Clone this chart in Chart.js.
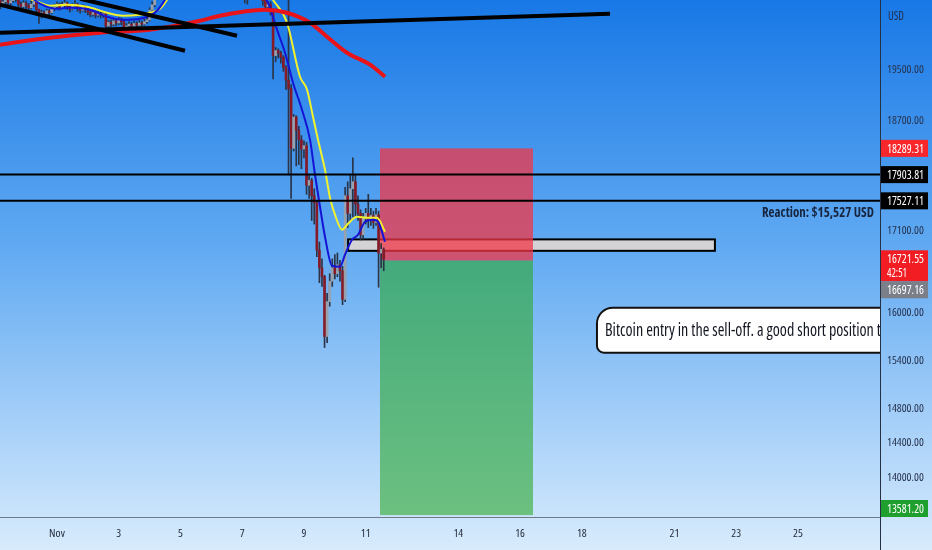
<!DOCTYPE html>
<html>
<head>
<meta charset="utf-8">
<script src="https://cdn.jsdelivr.net/npm/chart.js@4.4.1/dist/chart.umd.min.js"></script>
<style>
  html, body { margin: 0; padding: 0; background: #ffffff; }
  #wrap { width: 932px; height: 550px; position: relative; }
</style>
</head>
<body>
<div id="wrap"><canvas id="c" width="932" height="550"></canvas></div>
<script>
// ---- BTCUSD 2h candles (time in days, Nov 1 00:00 = 1) ----
const candleStartDay = -10 / 12;
const candleStepDay = 1 / 12;
const firstOpen = 20620;
const closes = [
  20560,20600,20640,20580,20620,20680,20650,20560,20520,20580,20540,20500,20560,20600,20470,20380,20420,20400,20450,20420,
  20480,20520,20560,20500,20540,20580,20520,20480,20530,20560,20500,20460,20510,20470,20430,20390,20420,20380,20410,20380,
  20400,20200,20260,20230,20280,20250,20300,20270,20160,20200,20230,20200,20240,20210,20250,20230,20270,20300,20460,20550,
  20680,20850,20950,21050,21000,21120,21200,21150,21230,21300,21350,21280,21330,21380,21310,21350,21290,21320,21260,21300,
  21240,21180,21220,21150,21080,21120,21050,20980,21020,20940,20880,20920,20850,20780,20720,20680,20740,20800,20760,20820,
  20780,20700,20620,20520,20560,20430,19720,19800,19760,19690,19530,19330,19200,18290,18760,18560,18420,18280,18330,17750,
  17820,17600,17500,16840,16600,16480,15700,16150,16420,16600,16520,16640,16560,16180,17600,17350,17700,17800,17480,17350,
  17050,17280,17350,17250,17320,17220,17330,16800,16850,16721.55
];
const highs = [
  20700,20680,20720,20690,20700,20760,20740,20670,20600,20620,20610,20570,20620,20650,20610,20480,20460,20450,20480,20470,
  20510,20560,20600,20580,20600,20640,20600,20540,20570,20620,20580,20520,20550,20540,20490,20450,20460,20440,20450,20440,
  20440,20420,20290,20300,20320,20310,20340,20330,20300,20240,20270,20260,20280,20270,20290,20280,20310,20340,20500,20600,
  20760,20950,21050,21120,21100,21200,21280,21260,21300,21380,21450,21400,21420,21460,21420,21410,21380,21390,21350,21370,
  21330,21280,21300,21260,21200,21180,21150,21090,21080,21050,20980,20980,20950,20880,20820,20780,20790,20860,20850,20900,
  20880,20820,20720,20650,20600,20600,20480,19850,19830,19790,19720,19560,20650,19260,18800,18780,18620,18480,18400,18380,
  17900,17850,17700,17520,16950,16720,16500,16260,16520,16720,16780,16800,16700,16620,17720,17800,17900,18150,17900,17600,
  17400,17350,17420,17620,17420,17380,17420,17380,16930,16870
];
const lows = [
  20480,20520,20560,20530,20540,20590,20600,20500,20470,20490,20480,20440,20480,20520,20400,20240,20330,20350,20370,20380,
  20400,20450,20490,20460,20480,20500,20470,20430,20460,20500,20440,20410,20440,20420,20380,20350,20360,20330,20350,20330,
  20340,20160,20150,20180,20200,20200,20220,20220,20130,20130,20170,20160,20180,20170,20190,20190,20210,20240,20280,20420,
  20520,20650,20820,20900,20920,20960,21080,21080,21120,21180,21250,21200,21230,21280,21250,21270,21220,21240,21180,21210,
  21170,21100,21120,21070,20980,21020,20960,20900,20920,20860,20800,20840,20760,20700,20640,20580,20560,20700,20690,20720,
  20700,20640,20540,20460,20480,20380,19350,19620,19680,19600,19470,19180,17900,17560,18250,18030,18050,17990,18150,17620,
  17560,17250,17200,16750,16400,16350,15560,15620,16090,16350,16450,16480,16420,16110,16150,17150,17250,17300,17300,17250,
  16980,16990,17200,17150,17180,17140,17180,16340,16600,16560
];

// ---- moving averages (day, price) ----
const emaFastDays   = [0.127,0.451,0.936,1.422,2.070,2.621,3.139,3.689,4.013,4.272,4.499,4.726,5.633,6.928,7.641,7.835,8.127,8.386,8.645,8.936,9.196,9.357,9.519,9.681,9.908,10.167,10.329,10.556,10.750,10.977,11.236,11.398,11.625];
const emaFastPrices = [20686,20568,20484,20501,20468,20352,20303,20320,20369,20468,20634,20837,21230,21057,20735,20585,20139,19766,19291,18872,18418,17902,17443,17024,16628,16614,16777,16982,17051,17232,17260,17232,16955];
const emaSlowDays   = [-0.197,0.289,0.774,1.325,1.973,2.621,3.139,3.689,4.013,4.337,4.564,4.823,5.633,6.604,7.414,7.997,8.451,8.872,9.098,9.293,9.455,9.681,9.843,10.038,10.232,10.426,10.718,11.042,11.366,11.625];
const emaSlowPrices = [20701,20618,20535,20551,20518,20418,20369,20385,20418,20484,20634,20888,21317,21490,21144,20634,20253,19385,19181,18766,18418,17975,17571,17288,17121,17204,17302,17288,17288,17093];
const smaLongDays   = [-0.845,0.774,2.394,4.013,4.985,5.633,6.280,7.026,7.738,8.450,9.196,9.746,10.394,11.139,11.625];
const smaLongPrices = [19895,20008,20090,20139,20220,20286,20369,20435,20468,20418,20253,20024,19766,19575,19385];

// ---- drawn levels and trend lines ----
const levelPrices = [17903.81, 17527.11];
const trendLines = [
  { days: [-0.845, 5.147], prices: [20551, 19798] },
  { days: [1.746, 6.831],  prices: [20652, 20041] },
  { days: [-0.845, 18.912], prices: [20090, 20402] }
];
const zone = { dayFrom: 10.43, dayTo: 22.31, priceTop: 16987, priceBottom: 16830 };
const position = { dayFrom: 11.463, dayTo: 16.418, stop: 18289.31, entry: 16697.16, target: 13581.20 };
const reactionNote = { day: 27.46, price: 17360, text: 'Reaction: $15,527 USD' };
const calloutNote = { day: 18.49, price: 16071, text: 'Bitcoin entry in the sell-off. a good short position to take', lead: 'Bitcoin entry in the sell-off. a good short position to' };

// ---- axes ----
const dayTicks = [1, 3, 5, 7, 9, 11, 14, 16, 18, 21, 23, 25];
const dayTickLabels = ['Nov', '3', '5', '7', '9', '11', '14', '16', '18', '21', '23', '25'];
const priceTicks = [14000, 14400, 14800, 15400, 16000, 17100, 18700, 19500];
const dayMin = -0.845, dayMax = 27.657;
const priceMin = 13560, priceMax = 20630;
const lastPrice = 16721.55;
const countdown = '42:51';

// Pick the narrowest installed sans face for the price-scale lettering.
function pickNarrowFont() {
  const c = document.createElement('canvas').getContext('2d');
  const cands = [
    { stretch: '', family: '"Liberation Sans"' },
    { stretch: '', family: '"Liberation Sans Narrow"' },
    { stretch: '', family: '"Noto Sans ExtraCondensed"' },
    { stretch: 'extra-condensed', family: '"Noto Sans"' },
    { stretch: '', family: '"Noto Sans Condensed"' },
    { stretch: 'condensed', family: '"Noto Sans"' },
    { stretch: '', family: '"DejaVu Sans Condensed"' },
    { stretch: 'condensed', family: '"DejaVu Sans"' },
    { stretch: 'condensed', family: '"Open Sans"' }
  ];
  const target = 38;
  let best = cands[0], bestW = Infinity, bestErr = Infinity;
  for (const f of cands) {
    c.font = '13px serif';
    c.font = (f.stretch ? f.stretch + ' ' : '') + '13px ' + f.family;
    const w = c.measureText('19500.00').width;
    const err = Math.abs(w - target);
    if (err < bestErr - 0.3) { bestErr = err; bestW = w; best = f; }
  }
  return { stretch: best.stretch, family: best.family + ', "Liberation Sans", sans-serif', w13: bestW };
}
const NARROW = pickNarrowFont();
const TICK_SIZE = Math.max(10, Math.min(13, Math.round(13 * 36 / NARROW.w13 * 2) / 2));
const fontStr = (size, weight) =>
  (weight ? weight + ' ' : '') + (NARROW.stretch ? NARROW.stretch + ' ' : '') + size + 'px ' + NARROW.family;

// text squeezed horizontally so that `lead` (or the text) spans `width` pixels
function fitText(ctx, text, x, y, size, weight, width, align, lead) {
  ctx.font = fontStr(size, weight);
  const w = ctx.measureText(lead || text).width;
  const sx = Math.min(1, width / w);
  ctx.save();
  ctx.translate(x, y);
  ctx.scale(sx, 1);
  ctx.textAlign = align || 'left';
  ctx.textBaseline = 'middle';
  ctx.fillText(text, 0, 0);
  ctx.restore();
}

const UP = '#9aa1ab', DOWN = '#861b27', WICK = '#2b3446';

const times = closes.map((_, i) => candleStartDay + i * candleStepDay);
const opens = [firstOpen].concat(closes.slice(0, -1));
const pts = (ds, ps) => ds.map((d, i) => ({ x: d, y: ps[i] }));

const datasets = [
  {
    type: 'bar', label: 'wicks', order: 6, grouped: false, barThickness: 1,
    backgroundColor: WICK,
    data: times.map((t, i) => ({ x: t, y: [lows[i], highs[i]] }))
  },
  {
    type: 'bar', label: 'bodies', order: 5, grouped: false, barThickness: 2, minBarLength: 1,
    backgroundColor: closes.map((c, i) => (c >= opens[i] ? UP : DOWN)),
    data: times.map((t, i) => ({ x: t, y: [opens[i], closes[i]] }))
  },
  {
    type: 'line', label: 'slow', order: 4, borderColor: '#f2f22c', borderWidth: 2,
    pointRadius: 0, cubicInterpolationMode: 'monotone', data: pts(emaSlowDays, emaSlowPrices)
  },
  {
    type: 'line', label: 'fast', order: 3, borderColor: '#1414d6', borderWidth: 2,
    pointRadius: 0, cubicInterpolationMode: 'monotone', data: pts(emaFastDays, emaFastPrices)
  },
  {
    type: 'line', label: 'long', order: 2, borderColor: '#e8141a', borderWidth: 4,
    pointRadius: 0, cubicInterpolationMode: 'monotone', data: pts(smaLongDays, smaLongPrices)
  }
];
levelPrices.forEach(p => datasets.push({
  type: 'line', label: 'level', order: 1, borderColor: '#000000', borderWidth: 2, pointRadius: 0,
  data: [{ x: dayMin, y: p }, { x: dayMax, y: p }]
}));
trendLines.forEach(tl => datasets.push({
  type: 'line', label: 'trend', order: 0, borderColor: '#000000', borderWidth: 4, pointRadius: 0,
  data: pts(tl.days, tl.prices)
}));

const decorations = {
  id: 'decorations',
  beforeDraw(chart) {
    const { ctx, width, height } = chart;
    const g = ctx.createLinearGradient(0, 0, 0, height);
    g.addColorStop(0, '#1878e6');
    g.addColorStop(0.45, '#61aaf2');
    g.addColorStop(1, '#d8ebfd');
    ctx.save();
    ctx.fillStyle = g;
    ctx.fillRect(0, 0, width, height);
    ctx.restore();
  },
  beforeDatasetsDraw(chart) {
    const { ctx, chartArea: a } = chart;
    const xs = chart.scales.x, ys = chart.scales.y;
    ctx.save();
    ctx.beginPath(); ctx.rect(a.left, a.top, a.right - a.left, a.bottom - a.top); ctx.clip();
    // support / resistance zone
    const zx0 = xs.getPixelForValue(zone.dayFrom), zx1 = xs.getPixelForValue(zone.dayTo);
    const zy0 = ys.getPixelForValue(zone.priceTop), zy1 = ys.getPixelForValue(zone.priceBottom);
    ctx.fillStyle = '#d3d3d6';
    ctx.fillRect(zx0, zy0, zx1 - zx0, zy1 - zy0);
    ctx.strokeStyle = '#000'; ctx.lineWidth = 2;
    ctx.strokeRect(zx0, zy0, zx1 - zx0, zy1 - zy0);
    // short position: risk (red) and reward (green)
    const px0 = xs.getPixelForValue(position.dayFrom), px1 = xs.getPixelForValue(position.dayTo);
    const yStop = ys.getPixelForValue(position.stop);
    const yEntry = ys.getPixelForValue(position.entry);
    const yTarget = ys.getPixelForValue(position.target);
    ctx.fillStyle = 'rgba(242,54,69,0.75)';
    ctx.fillRect(px0, yStop, px1 - px0, yEntry - yStop);
    ctx.fillStyle = 'rgba(45,168,45,0.6)';
    ctx.fillRect(px0, yEntry, px1 - px0, yTarget - yEntry);
    ctx.restore();
  },
  afterDatasetsDraw(chart) {
    const { ctx, chartArea: a } = chart;
    const xs = chart.scales.x, ys = chart.scales.y;
    ctx.save();
    ctx.beginPath(); ctx.rect(a.left, a.top, a.right - a.left, a.bottom - a.top); ctx.clip();
    // reaction note
    ctx.fillStyle = '#17243d';
    fitText(ctx, reactionNote.text, xs.getPixelForValue(reactionNote.day), ys.getPixelForValue(reactionNote.price),
      14, 'bold', 112, 'right');
    // callout
    const cx = xs.getPixelForValue(calloutNote.day), cy = ys.getPixelForValue(calloutNote.price);
    const h = 45, w = 420;
    ctx.beginPath();
    ctx.roundRect(cx, cy, w, h, [16, 8, 8, 7]);
    ctx.fillStyle = '#ffffff'; ctx.fill();
    ctx.lineWidth = 2; ctx.strokeStyle = '#111'; ctx.stroke();
    ctx.fillStyle = '#131722';
    fitText(ctx, calloutNote.text, cx + 8, cy + h / 2 + 1, 18, '', 283, 'left', calloutNote.lead);
    ctx.restore();
  },
  afterDraw(chart) {
    const { ctx, chartArea: a, height } = chart;
    const ys = chart.scales.y;
    ctx.save();
    // frame lines
    ctx.strokeStyle = '#243044'; ctx.lineWidth = 1;
    ctx.beginPath(); ctx.moveTo(a.right + 0.5, 0); ctx.lineTo(a.right + 0.5, height); ctx.stroke();
    ctx.strokeStyle = '#6f7a8a';
    ctx.beginPath(); ctx.moveTo(0, a.bottom + 0.5); ctx.lineTo(a.right, a.bottom + 0.5); ctx.stroke();
    // currency
    ctx.fillStyle = '#223050';
    fitText(ctx, 'USD', a.right + 8, 16, 13, '', 16, 'left');
    // price tags
    const x0 = a.right + 1, tagW = 47, tagH = 17;
    const tag = (price, bg, lines, top) => {
      const y = ys.getPixelForValue(price);
      let t = top !== undefined ? top : y - tagH / 2;
      const hh = tagH * lines.length - (lines.length > 1 ? 3 : 0);
      t = Math.min(t, a.bottom - hh);
      ctx.fillStyle = bg;
      ctx.fillRect(x0, t, tagW, hh);
      ctx.fillStyle = '#ffffff';
      lines.forEach((s, i) => fitText(ctx, s, a.right + 7, t + 9 + i * 14, 13, '', s.length > 5 ? 37 : 20, 'left'));
      return t + hh;
    };
    tag(position.stop, '#f7262b', [position.stop.toFixed(2)]);
    tag(levelPrices[0], '#000000', [levelPrices[0].toFixed(2)]);
    tag(levelPrices[1], '#000000', [levelPrices[1].toFixed(2)]);
    const lastBottom = tag(lastPrice, '#f21d22', [lastPrice.toFixed(2), countdown]);
    tag(position.entry, '#7b7f8a', [position.entry.toFixed(2)],
      Math.max(ys.getPixelForValue(position.entry) - tagH / 2, lastBottom));
    tag(position.target, '#1f9f2e', [position.target.toFixed(2)]);
    ctx.restore();
  }
};

// Chart.js composes "style weight size family"; the width keyword rides along with the weight.
const tickFont = {
  family: NARROW.family, size: TICK_SIZE,
  weight: NARROW.stretch ? '400 ' + NARROW.stretch : '400'
};

new Chart(document.getElementById('c'), {
  type: 'bar',
  data: { datasets },
  options: {
    responsive: false,
    maintainAspectRatio: false,
    animation: false,
    events: [],
    layout: { padding: 0 },
    plugins: { legend: { display: false }, tooltip: { enabled: false } },
    scales: {
      x: {
        type: 'linear', min: dayMin, max: dayMax, offset: false,
        grid: { display: false, drawTicks: false },
        border: { display: false },
        ticks: {
          autoSkip: false, maxRotation: 0, padding: 10, color: '#1f2633',
          font: tickFont,
          callback: (v) => { const k = dayTicks.indexOf(v); return k >= 0 ? dayTickLabels[k] : ''; }
        },
        afterBuildTicks: (s) => { s.ticks = dayTicks.map(v => ({ value: v })); },
        afterFit: (s) => { s.height = 33; s.paddingLeft = 0; s.paddingRight = 0; }
      },
      y: {
        type: 'logarithmic', position: 'right', min: priceMin, max: priceMax,
        grid: { display: false, drawTicks: false },
        border: { display: false },
        ticks: {
          autoSkip: false, padding: 7, color: '#26324d',
          font: tickFont,
          callback: (v) => Number(v).toFixed(2)
        },
        afterBuildTicks: (s) => { s.ticks = priceTicks.map(v => ({ value: v })); },
        afterFit: (s) => { s.width = 52; s.paddingTop = 0; s.paddingBottom = 0; }
      }
    }
  },
  plugins: [decorations]
});
</script>
</body>
</html>
